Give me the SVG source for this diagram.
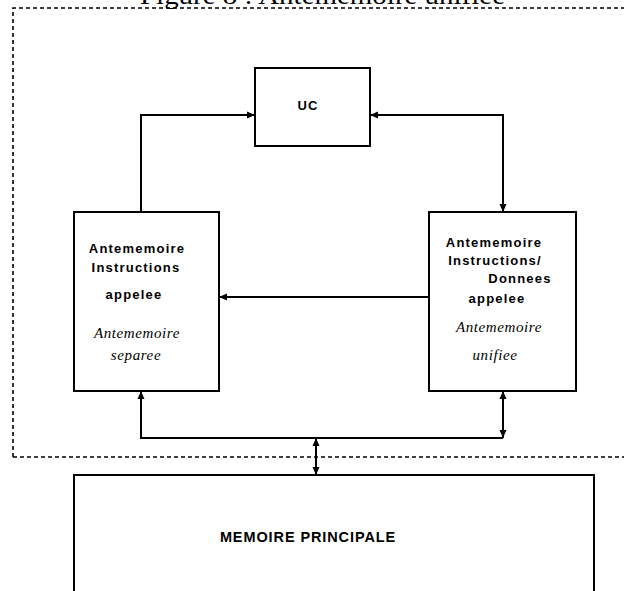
<svg xmlns="http://www.w3.org/2000/svg" width="624" height="591" viewBox="0 0 624 591">
  <defs>
    <style>
      .box { fill: #fff; stroke: #000; stroke-width: 2; }
      .wire { fill: none; stroke: #000; stroke-width: 2; }
      .frame { fill: none; stroke: #000; stroke-width: 1.6; stroke-dasharray: 4 3; }
      .lbl { font-family: "Liberation Sans", Arial, sans-serif; font-weight: bold; font-size: 13px; letter-spacing: 1.2px; fill: #000; text-anchor: middle; }
      .ital { font-family: "Liberation Serif", "Times New Roman", serif; font-style: italic; font-size: 15px; letter-spacing: 0.6px; fill: #000; text-anchor: middle; }
      .title { font-family: "Liberation Serif", "Times New Roman", serif; font-size: 26px; fill: #000; }
    </style>
    <marker id="arr" viewBox="0 0 8 8" refX="8" refY="4" markerWidth="4" markerHeight="4" orient="auto-start-reverse" markerUnits="strokeWidth">
      <path d="M0,0.5 L8,4 L0,7.5 Z" fill="#000"/>
    </marker>
  </defs>

  <!-- caption, partly cut off at the top edge -->
  <text class="title" x="140" y="4" textLength="365" lengthAdjust="spacingAndGlyphs">Figure 8 : Antememoire unifiee</text>

  <!-- dashed frame around the processor and caches -->
  <path class="frame" d="M13,457 L13,8 L630,8 M13,457 L630,457"/>

  <g id="connectors">
    <!-- left cache to UC -->
    <path class="wire" d="M141,212 L141,115 L255,115" marker-end="url(#arr)"/>
    <!-- UC to unified cache -->
    <path class="wire" d="M370,115 L503,115 L503,212" marker-start="url(#arr)" marker-end="url(#arr)"/>
    <!-- unified cache to separate cache -->
    <path class="wire" d="M429,297 L219,297" marker-end="url(#arr)"/>
    <!-- bus from main memory -->
    <path class="wire" d="M141,391 L141,438 L503,438"/>
    <path class="wire" d="M141,438 L141,391" marker-end="url(#arr)"/>
    <path class="wire" d="M503,391 L503,438" marker-start="url(#arr)" marker-end="url(#arr)"/>
    <path class="wire" d="M316,438 L316,475" marker-start="url(#arr)" marker-end="url(#arr)"/>
  </g>

  <g id="uc">
    <rect class="box" x="255" y="68" width="115" height="78"/>
    <text class="lbl" x="308" y="110">UC</text>
  </g>

  <g id="cache-separee">
    <rect class="box" x="74" y="212" width="145" height="179"/>
    <text class="lbl" x="137" y="253">Antememoire</text>
    <text class="lbl" x="136" y="272">Instructions</text>
    <text class="lbl" x="134" y="299">appelee</text>
    <text class="ital" x="137" y="338">Antememoire</text>
    <text class="ital" x="136" y="360">separee</text>
  </g>

  <g id="cache-unifiee">
    <rect class="box" x="429" y="212" width="147" height="179"/>
    <text class="lbl" x="494" y="247">Antememoire</text>
    <text class="lbl" x="495" y="265">Instructions/</text>
    <text class="lbl" x="520" y="283">Donnees</text>
    <text class="lbl" x="497" y="303">appelee</text>
    <text class="ital" x="499" y="332">Antememoire</text>
    <text class="ital" x="495" y="360">unifiee</text>
  </g>

  <g id="memoire">
    <rect class="box" x="74" y="475" width="520" height="130"/>
    <text class="lbl" x="308" y="542" style="font-size:14.5px;letter-spacing:0.9px">MEMOIRE PRINCIPALE</text>
  </g>
</svg>
